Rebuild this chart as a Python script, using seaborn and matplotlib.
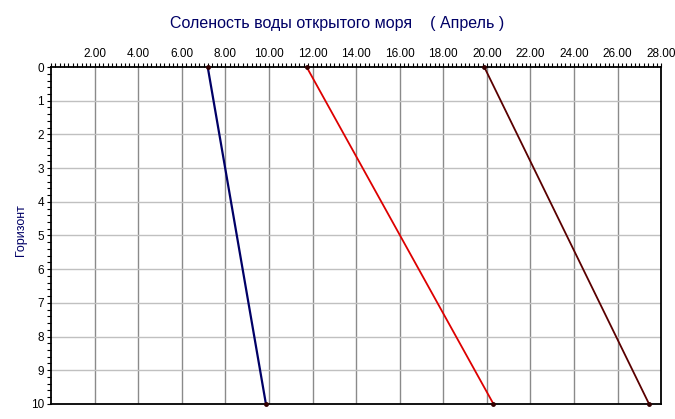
import numpy as np
import pandas as pd
import seaborn as sns
import matplotlib.pyplot as plt
from matplotlib.ticker import MultipleLocator

# values: salinity at the top and bottom horizon
depth = [0, 10]
blue_sal = [7.19, 9.86]
red_sal = [11.73, 20.30]
dark_sal = [19.88, 27.44]
series_names = ["s1", "s2", "s3"]
series_colors = ["#000066", "#dd0000", "#5a0000"]
x_ticks = np.arange(2, 29, 2)

df = pd.DataFrame({
    "depth": depth * 3,
    "salinity": blue_sal + red_sal + dark_sal,
    "series": [n for n in series_names for _ in depth],
})

sns.set_style("white")
plt.rcParams['font.family'] = ['Liberation Sans', 'DejaVu Sans']

fig = plt.figure(figsize=(6.75, 4.19), dpi=100)
ax = fig.add_axes([0.0756, 0.036, 0.904, 0.804])

sns.lineplot(data=df, x="salinity", y="depth", hue="series",
             palette=series_colors, sort=False, estimator=None,
             linewidth=1.3, marker="o", markersize=3.5,
             markeredgewidth=0, legend=False, ax=ax)

# endpoint dots are dark and not clipped by the frame
for ln in ax.lines:
    ln.set_clip_on(False)
    ln.set_markerfacecolor("#330000")
    ln.set_zorder(5)
ax.lines[0].set_linewidth(1.6)

ax.set_xlim(0, 28)
ax.set_ylim(10, 0)

ax.set_xticks(x_ticks)
ax.set_xticklabels([f"{v:.2f}" for v in x_ticks])
ax.xaxis.set_minor_locator(MultipleLocator(0.2))
ax.yaxis.set_major_locator(MultipleLocator(1))
ax.yaxis.set_minor_locator(MultipleLocator(0.2))

ax.xaxis.tick_top()
ax.tick_params(axis="x", which="both", top=True, bottom=False, direction="out",
               length=3, width=0.8, labelsize=8.5, pad=2, colors="black")
ax.tick_params(axis="y", which="both", left=True, direction="out",
               length=3, width=0.8, labelsize=8.5, pad=2, colors="black")

ax.grid(False)
for v in x_ticks[:-1]:
    ax.axvline(v, color="#8a8a8a", linewidth=1.0, zorder=0)
for h in range(1, 10):
    ax.axhline(h, color="#c0c0c0", linewidth=1.0, zorder=0)

for s in ax.spines.values():
    s.set_color("black")
    s.set_linewidth(1.3)

ax.set_xlabel("")
ax.set_ylabel("Горизонт", color="#000066", fontsize=9)
ax.yaxis.set_label_coords(-0.039, 0.515)

fig.text(0.5, 0.945, "Соленость воды открытого моря    ( Апрель )",
         ha="center", va="center", fontsize=11.5, color="#000066")

fig.savefig("out.png", dpi=100)
